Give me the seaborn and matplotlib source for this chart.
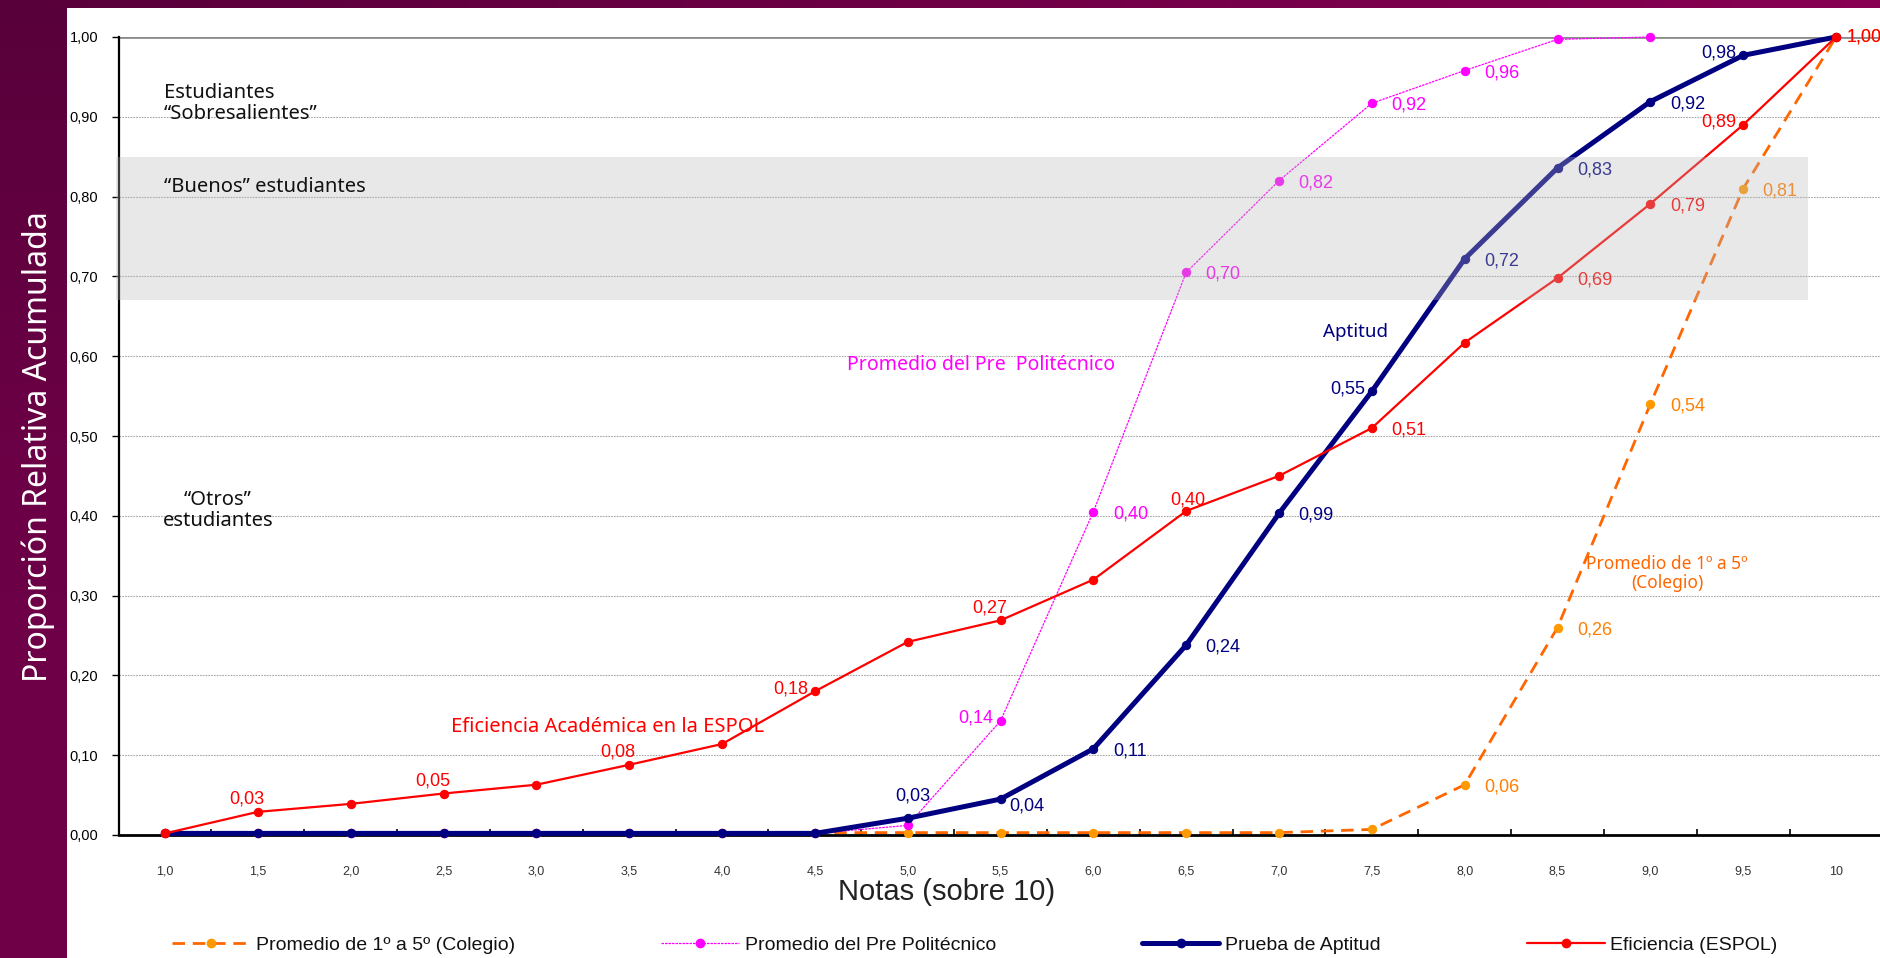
import numpy as np
import matplotlib
matplotlib.use("Agg")
import matplotlib.pyplot as plt
import seaborn as sns
from matplotlib.colors import LinearSegmentedColormap
from matplotlib.lines import Line2D
from matplotlib.patches import Rectangle
from matplotlib.ticker import FixedLocator, FixedFormatter

# ---------------------------------------------------------------- data
notas = ["1,0", "1,5", "2,0", "2,5", "3,0", "3,5", "4,0", "4,5", "5,0", "5,5",
         "6,0", "6,5", "7,0", "7,5", "8,0", "8,5", "9,0", "9,5", "10"]

y_ticks = [0.0, 0.1, 0.2, 0.3, 0.4, 0.5, 0.6, 0.7, 0.8, 0.9, 1.0]
y_tick_labels = ["0,00", "0,10", "0,20", "0,30", "0,40", "0,50",
                 "0,60", "0,70", "0,80", "0,90", "1,00"]

colegio = [0.003, 0.003, 0.003, 0.003, 0.003, 0.003, 0.003, 0.003, 0.003, 0.003,
           0.003, 0.003, 0.003, 0.007, 0.063, 0.260, 0.540, 0.810, 1.000]
pre_politecnico = [0.002, 0.002, 0.002, 0.002, 0.002, 0.002, 0.002, 0.002, 0.012, 0.143,
                   0.405, 0.705, 0.820, 0.917, 0.958, 0.997, 1.000, np.nan, np.nan]
aptitud = [0.002, 0.002, 0.002, 0.002, 0.002, 0.002, 0.002, 0.002, 0.021, 0.045,
           0.108, 0.238, 0.403, 0.556, 0.722, 0.836, 0.919, 0.977, 1.000]
eficiencia = [0.002, 0.029, 0.039, 0.052, 0.063, 0.088, 0.114, 0.180, 0.242, 0.269,
              0.320, 0.406, 0.450, 0.510, 0.617, 0.698, 0.791, 0.890, 1.000]

# printed point labels ("" = no label)
colegio_labels = ["", "", "", "", "", "", "", "", "", "",
                  "", "", "", "", "0,06", "0,26", "0,54", "0,81", "1,00"]
pre_labels = ["", "", "", "", "", "", "", "", "", "0,14",
              "0,40", "0,70", "0,82", "0,92", "0,96", "", "", "", ""]
aptitud_labels = ["", "", "", "", "", "", "", "", "0,03", "0,04",
                  "0,11", "0,24", "0,99", "0,55", "0,72", "0,83", "0,92", "0,98", ""]
eficiencia_labels = ["", "0,03", "", "0,05", "", "0,08", "", "0,18", "", "0,27",
                     "", "0,40", "", "0,51", "", "0,69", "0,79", "0,89", "1,00"]

series_names = ["Promedio de 1º a 5º (Colegio)", "Promedio del Pre Politécnico",
                "Prueba de Aptitud", "Eficiencia (ESPOL)"]

# ---------------------------------------------------------------- style
sns.set_theme(style="white")
plt.rcParams["font.family"] = ["Liberation Sans", "DejaVu Sans"]

W, H = 1880, 958
fig = plt.figure(figsize=(W / 100, H / 100), dpi=100, facecolor="white")

# maroon frame: left strip and thin top bar
bg = fig.add_axes([0, 0, 1, 1], zorder=0)
bg.axis("off")
strip_cmap = LinearSegmentedColormap.from_list("strip", ["#58003a", "#6c0046", "#700048"])
bar_cmap = LinearSegmentedColormap.from_list("bar", ["#58003a", "#6e0046", "#880052"])
bg.imshow(np.linspace(0, 1, 256)[:, None], cmap=strip_cmap, aspect="auto",
          extent=(0, 67, H, 0), origin="upper")
bg.imshow(np.linspace(0, 1, 256)[None, :], cmap=bar_cmap, aspect="auto",
          extent=(0, W, 8, 0), origin="upper")
bg.set_xlim(0, W)
bg.set_ylim(H, 0)

ax = fig.add_axes([119 / W, 123 / H, 1761 / W, 798 / H], zorder=1)
ax.set_facecolor("white")
x = np.arange(len(notas))

C_ORANGE_LINE, C_ORANGE_MK, C_ORANGE_TXT = "#FF6600", "#FF9900", "#FF7F00"
C_MAGENTA = "#FF00FF"
C_NAVY = "#000080"
C_RED = "#FF0000"

# series
sns.lineplot(x=x, y=colegio, ax=ax, color=C_ORANGE_LINE, lw=2.0, marker="o",
             markersize=6, markerfacecolor=C_ORANGE_MK, markeredgecolor=C_ORANGE_MK, zorder=3)
ax.lines[-1].set_linestyle((0, (4.5, 2.8)))
sns.lineplot(x=x, y=pre_politecnico, ax=ax, color=C_MAGENTA, lw=0.9, marker="o",
             markersize=6, markerfacecolor=C_MAGENTA, markeredgecolor=C_MAGENTA, zorder=3)
ax.lines[-1].set_linestyle((0, (2, 0.8)))
sns.lineplot(x=x, y=aptitud, ax=ax, color=C_NAVY, lw=3.6, marker="o",
             markersize=6, markerfacecolor=C_NAVY, markeredgecolor=C_NAVY, zorder=3)
sns.lineplot(x=x, y=eficiencia, ax=ax, color=C_RED, lw=1.6, marker="o",
             markersize=6, markerfacecolor=C_RED, markeredgecolor=C_RED, zorder=3)
for ln in ax.lines:
    ln.set_clip_on(False)

# point labels
offsets = {
    "r": (14, -1.5, "left"),
    "r1": (8, 0, "left"),
    "l": (-5, 2, "right"),
    "ul": (-8, 9, "center"),
    "uc": (1, 8, "center"),
    "u": (4, 16, "center"),
    "dr": (6, -5, "left"),
}


def label_points(values, labels, codes, color):
    for i, (v, t) in enumerate(zip(values, labels)):
        if not t:
            continue
        dx, dy, ha = offsets[codes.get(i, "r")]
        ax.annotate(t, (x[i], v), xytext=(dx, dy), textcoords="offset points",
                    ha=ha, va="center", fontsize=13, color=color, zorder=4,
                    annotation_clip=False)


label_points(colegio, colegio_labels, {18: "r1"}, C_ORANGE_TXT)
label_points(pre_politecnico, pre_labels, {9: "l"}, C_MAGENTA)
label_points(aptitud, aptitud_labels, {8: "u", 9: "dr", 13: "l", 17: "l"}, C_NAVY)
label_points(eficiencia, eficiencia_labels,
             {1: "ul", 3: "ul", 5: "ul", 7: "l", 9: "ul", 11: "uc", 17: "l", 18: "r1"}, C_RED)

# "buenos" band, translucent over the series
ax.add_patch(Rectangle((-0.53, 0.67), 18.23, 0.18, facecolor="#B8B8B8", alpha=0.32,
                       edgecolor="none", zorder=5, clip_on=False))

# axes
ax.set_xlim(-0.496, 18.474)
ax.set_ylim(0, 1.0)
ax.set_axisbelow(True)
ax.yaxis.set_major_locator(FixedLocator(y_ticks))
ax.yaxis.set_major_formatter(FixedFormatter(y_tick_labels))
ax.grid(axis="y", color="#a8a8a8", lw=0.8, linestyle=(0, (1.5, 1)))
ax.grid(axis="x", visible=False)
ax.axhline(1.0, color="#8c8c8c", lw=2.0, zorder=1.5)
ax.set_xticks(x)
ax.set_xticklabels(notas)
ax.set_xticks(np.arange(0.5, len(notas) - 1, 1.0), minor=True)
ax.tick_params(axis="x", which="major", length=0, pad=22, labelsize=9, labelcolor="#333333")
ax.tick_params(axis="x", which="minor", direction="in", length=4, width=1.2, color="black", bottom=True)
ax.tick_params(axis="y", which="major", direction="out", length=5, width=1, color="black",
               left=True, labelsize=10.5, labelcolor="black", pad=10)
for side in ("top", "right"):
    ax.spines[side].set_visible(False)
ax.spines["left"].set_color("black")
ax.spines["left"].set_linewidth(1.6)
ax.spines["bottom"].set_color("black")
ax.spines["bottom"].set_linewidth(2.0)
ax.spines["bottom"].set_zorder(2.5)

ax.set_xlabel("Notas (sobre 10)", fontsize=21, color="#222222", labelpad=0,
              x=(947 - 119) / 1761)
fig.text(38 / W, 1 - 447 / H, "Proporción Relativa Acumulada", rotation=90,
         ha="center", va="center", color="white", fontsize=23, family="Noto Sans")

# group annotations
note = dict(family="Noto Sans", zorder=6)
ax.text(-0.01, 0.917, "Estudiantes\n“Sobresalientes”", ha="left", va="center",
        fontsize=14.5, color="#111111", linespacing=1.05, **note)
ax.text(-0.01, 0.812, "“Buenos” estudiantes", ha="left", va="center",
        fontsize=14.5, color="#111111", **note)
ax.text(0.57, 0.407, "“Otros”\nestudiantes", ha="center", va="center", multialignment="center",
        fontsize=14.5, color="#111111", linespacing=1.05, **note)
ax.text(8.79, 0.589, "Promedio del Pre  Politécnico", ha="center", va="center",
        fontsize=14, color=C_MAGENTA, family="Noto Sans", zorder=4)
ax.text(12.82, 0.630, "Aptitud", ha="center", va="center",
        fontsize=13.5, color=C_NAVY, family="Noto Sans", zorder=4)
ax.text(4.77, 0.135, "Eficiencia Académica en la ESPOL", ha="center", va="center",
        fontsize=14.5, color=C_RED, family="Noto Sans", zorder=4)
ax.text(16.18, 0.328, "Promedio de 1º a 5º\n(Colegio)", ha="center", va="center",
        multialignment="center", fontsize=12.5, color=C_ORANGE_LINE, linespacing=1.05,
        family="Noto Sans", zorder=4)

# legend
handles = [
    Line2D([], [], color=C_ORANGE_LINE, lw=2.0, linestyle=(0, (4.5, 2.8)), marker="o",
           markersize=6, markerfacecolor=C_ORANGE_MK, markeredgecolor=C_ORANGE_MK),
    Line2D([], [], color=C_MAGENTA, lw=0.9, linestyle=(0, (2, 0.8)), marker="o",
           markersize=6, markerfacecolor=C_MAGENTA, markeredgecolor=C_MAGENTA),
    Line2D([], [], color=C_NAVY, lw=3.6, marker="o", markersize=6,
           markerfacecolor=C_NAVY, markeredgecolor=C_NAVY),
    Line2D([], [], color=C_RED, lw=1.6, marker="o", markersize=6,
           markerfacecolor=C_RED, markeredgecolor=C_RED),
]
fig.legend(handles, series_names, loc="center", bbox_to_anchor=(975 / W, 1 - 945 / H),
           ncol=4, frameon=False, fontsize=14, handlelength=4.0, handletextpad=0.3,
           columnspacing=7.5, borderpad=0, labelcolor="#111111")

fig.savefig("out.png", dpi=100, facecolor="white")
